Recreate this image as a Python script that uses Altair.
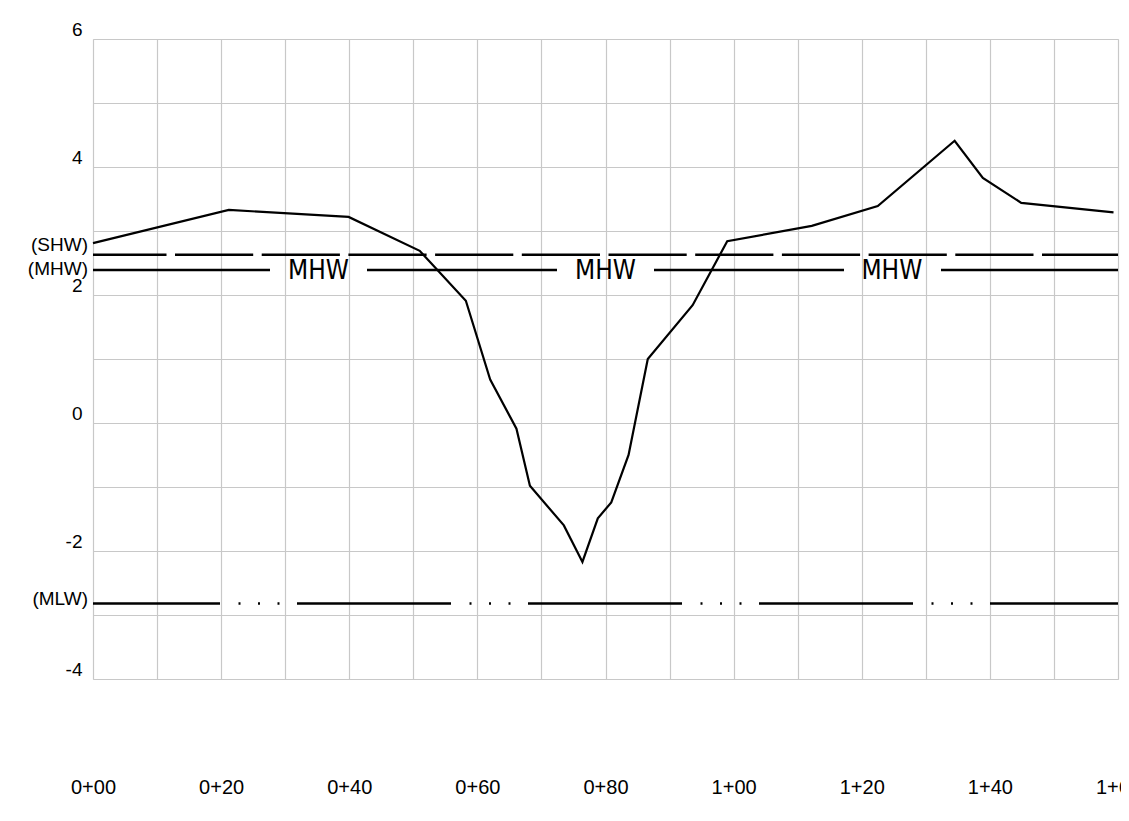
import altair as alt
import pandas as pd

# Ground profile (station in ft, elevation)
profile_x = [0, 21.2, 39.9, 51.0, 58.2, 62.0, 66.1, 68.2, 73.5, 76.4, 78.8, 80.9,
             83.6, 86.6, 93.6, 99.0, 112.2, 122.5, 134.5, 138.9, 144.9, 159.3]
profile_y = [2.81, 3.33, 3.22, 2.69, 1.91, 0.68, -0.09, -0.98, -1.60, -2.17, -1.49, -1.24,
             -0.50, 1.00, 1.84, 2.84, 3.08, 3.39, 4.41, 3.83, 3.44, 3.29]

# Tidal levels
shw_level = 2.63
mhw_level = 2.39
mlw_level = -2.82

side_labels = ["(SHW)", "(MHW)", "(MLW)"]
side_label_y = [2.78, 2.41, -2.75]

mhw_text_x = [35.2, 80.0, 124.7]

x_ticks = [0, 20, 40, 60, 80, 100, 120, 140, 160]
y_grid = [-4, -3, -2, -1, 0, 1, 2, 3, 4, 5, 6]

prof = pd.DataFrame({"x": profile_x, "y": profile_y})
side = pd.DataFrame({"label": side_labels, "y": side_label_y})
mhw_txt = pd.DataFrame({"x": mhw_text_x, "y": [mhw_level] * len(mhw_text_x), "t": ["MHW"] * len(mhw_text_x)})

FONT = "Liberation Sans"

xscale = alt.Scale(domain=[0, 160], nice=False, zero=False)
yscale = alt.Scale(domain=[-4, 6], nice=False, zero=False)

x_axis = alt.Axis(
    values=x_ticks + list(range(10, 160, 20)),
    labelExpr="datum.value % 20 == 0 ? floor(datum.value/100) + '+' + (datum.value % 100 < 10 ? '0' : '') + (datum.value % 100) : ''",
    title=None, ticks=False, domain=False, grid=True,
    gridColor="#c8c8c8", gridWidth=1.2,
    labelFont=FONT, labelFontSize=20, labelColor="black",
    labelPadding=98, labelFlush=False, labelOverlap=False,
)
y_axis = alt.Axis(
    values=y_grid,
    labelExpr="datum.value % 2 == 0 ? '' + datum.value : ''",
    title=None, ticks=False, domain=False, grid=True,
    gridColor="#c8c8c8", gridWidth=1.2,
    labelFont=FONT, labelFontSize=19, labelColor="black",
    labelPadding=11, labelBaseline="bottom", labelFlush=False, labelOverlap=False,
)

line = alt.Chart(prof).mark_line(color="black", strokeWidth=2.2).encode(
    x=alt.X("x:Q", scale=xscale, axis=x_axis),
    y=alt.Y("y:Q", scale=yscale, axis=y_axis),
)

shw = alt.Chart(pd.DataFrame({"y": [shw_level]})).mark_rule(
    color="black", strokeWidth=2.4, strokeDash=[78.2, 8.5], strokeDashOffset=2.2, strokeCap="butt"
).encode(y=alt.Y("y:Q", scale=yscale))

mhw = alt.Chart(pd.DataFrame({"y": [mhw_level]})).mark_rule(
    color="black", strokeWidth=2.4, strokeDash=[190, 97], strokeDashOffset=13, strokeCap="butt"
).encode(y=alt.Y("y:Q", scale=yscale))

mlw = alt.Chart(pd.DataFrame({"y": [mlw_level]})).mark_rule(
    color="black", strokeWidth=2.6,
    strokeDash=[154, 17.5, 2, 17.5, 2, 17.5, 2, 18.5], strokeDashOffset=26, strokeCap="butt"
).encode(y=alt.Y("y:Q", scale=yscale))

mhw_label = alt.Chart(mhw_txt).mark_text(
    font="DejaVu Sans Condensed, Liberation Sans Narrow, sans-serif", fontSize=26,
    fontWeight="lighter", align="center", baseline="middle", color="black", dy=1
).encode(
    x=alt.X("x:Q", scale=xscale),
    y=alt.Y("y:Q", scale=yscale),
    text="t:N",
)

side_text = alt.Chart(side).mark_text(
    font=FONT, fontSize=19, align="right", baseline="middle", color="black"
).encode(
    x=alt.value(-5),
    y=alt.Y("y:Q", scale=yscale),
    text="label:N",
)

chart = alt.layer(shw, mhw, mlw, line, mhw_label, side_text).properties(
    width=1025, height=640,
    autosize=alt.AutoSizeParams(type="none"),
    padding={"left": 85, "top": 31, "right": 3, "bottom": 120},
).configure_view(stroke=None).configure(background="white")

chart.save("out.html", embed_options={"renderer": "svg", "actions": False})
